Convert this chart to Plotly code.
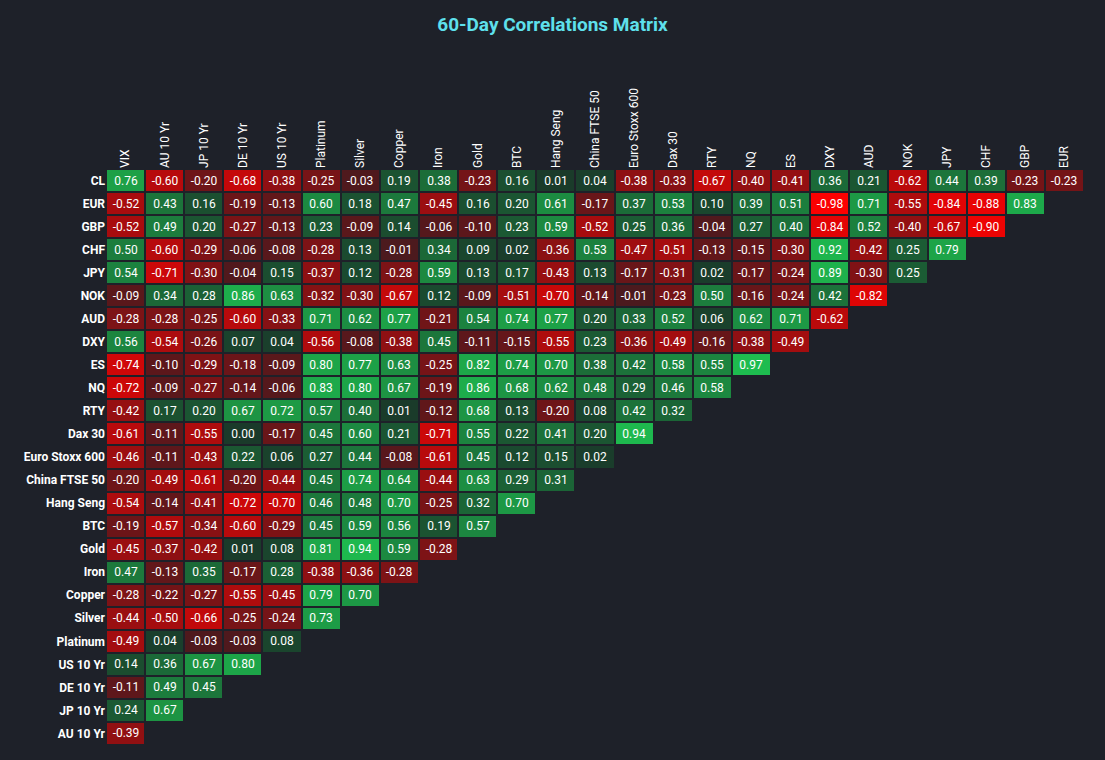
import plotly.graph_objects as go

cols = ["VIX","AU 10 Yr","JP 10 Yr","DE 10 Yr","US 10 Yr","Platinum","Silver","Copper","Iron","Gold","BTC",
        "Hang Seng","China FTSE 50","Euro Stoxx 600","Dax 30","RTY","NQ","ES","DXY","AUD","NOK","JPY","CHF","GBP","EUR"]
rows = ["CL","EUR","GBP","CHF","JPY","NOK","AUD","DXY","ES","NQ","RTY","Dax 30","Euro Stoxx 600","China FTSE 50",
        "Hang Seng","BTC","Gold","Iron","Copper","Silver","Platinum","US 10 Yr","DE 10 Yr","JP 10 Yr","AU 10 Yr"]

vals = [
 [0.76,-0.60,-0.20,-0.68,-0.38,-0.25,-0.03,0.19,0.38,-0.23,0.16,0.01,0.04,-0.38,-0.33,-0.67,-0.40,-0.41,0.36,0.21,-0.62,0.44,0.39,-0.23,-0.23],
 [-0.52,0.43,0.16,-0.19,-0.13,0.60,0.18,0.47,-0.45,0.16,0.20,0.61,-0.17,0.37,0.53,0.10,0.39,0.51,-0.98,0.71,-0.55,-0.84,-0.88,0.83],
 [-0.52,0.49,0.20,-0.27,-0.13,0.23,-0.09,0.14,-0.06,-0.10,0.23,0.59,-0.52,0.25,0.36,-0.04,0.27,0.40,-0.84,0.52,-0.40,-0.67,-0.90],
 [0.50,-0.60,-0.29,-0.06,-0.08,-0.28,0.13,-0.01,0.34,0.09,0.02,-0.36,0.53,-0.47,-0.51,-0.13,-0.15,-0.30,0.92,-0.42,0.25,0.79],
 [0.54,-0.71,-0.30,-0.04,0.15,-0.37,0.12,-0.28,0.59,0.13,0.17,-0.43,0.13,-0.17,-0.31,0.02,-0.17,-0.24,0.89,-0.30,0.25],
 [-0.09,0.34,0.28,0.86,0.63,-0.32,-0.30,-0.67,0.12,-0.09,-0.51,-0.70,-0.14,-0.01,-0.23,0.50,-0.16,-0.24,0.42,-0.82],
 [-0.28,-0.28,-0.25,-0.60,-0.33,0.71,0.62,0.77,-0.21,0.54,0.74,0.77,0.20,0.33,0.52,0.06,0.62,0.71,-0.62],
 [0.56,-0.54,-0.26,0.07,0.04,-0.56,-0.08,-0.38,0.45,-0.11,-0.15,-0.55,0.23,-0.36,-0.49,-0.16,-0.38,-0.49],
 [-0.74,-0.10,-0.29,-0.18,-0.09,0.80,0.77,0.63,-0.25,0.82,0.74,0.70,0.38,0.42,0.58,0.55,0.97],
 [-0.72,-0.09,-0.27,-0.14,-0.06,0.83,0.80,0.67,-0.19,0.86,0.68,0.62,0.48,0.29,0.46,0.58],
 [-0.42,0.17,0.20,0.67,0.72,0.57,0.40,0.01,-0.12,0.68,0.13,-0.20,0.08,0.42,0.32],
 [-0.61,-0.11,-0.55,0.00,-0.17,0.45,0.60,0.21,-0.71,0.55,0.22,0.41,0.20,0.94],
 [-0.46,-0.11,-0.43,0.22,0.06,0.27,0.44,-0.08,-0.61,0.45,0.12,0.15,0.02],
 [-0.20,-0.49,-0.61,-0.20,-0.44,0.45,0.74,0.64,-0.44,0.63,0.29,0.31],
 [-0.54,-0.14,-0.41,-0.72,-0.70,0.46,0.48,0.70,-0.25,0.32,0.70],
 [-0.19,-0.57,-0.34,-0.60,-0.29,0.45,0.59,0.56,0.19,0.57],
 [-0.45,-0.37,-0.42,0.01,0.08,0.81,0.94,0.59,-0.28],
 [0.47,-0.13,0.35,-0.17,0.28,-0.38,-0.36,-0.28],
 [-0.28,-0.22,-0.27,-0.55,-0.45,0.79,0.70],
 [-0.44,-0.50,-0.66,-0.25,-0.24,0.73],
 [-0.49,0.04,-0.03,-0.03,0.08],
 [0.14,0.36,0.67,0.80],
 [-0.11,0.49,0.45],
 [0.24,0.67],
 [-0.39],
]

z = [r + [None]*(len(cols)-len(r)) for r in vals]
text = [[("%.2f" % v) if v is not None else "" for v in r] for r in z]

bg = "#1e2129"
fig = go.Figure(go.Heatmap(
    z=z, x=cols, y=rows, text=text, texttemplate="%{text}",
    textfont=dict(color="white", size=12),
    zmin=-1, zmax=1, xgap=2, ygap=2, showscale=False, hoverinfo="skip",
    colorscale=[[0, "#ff0000"], [0.5, "#4a1a1e"], [0.5, "#1a3a2a"], [1, "#1ec050"]],
))
fig.update_layout(
    width=1105, height=760, paper_bgcolor=bg, plot_bgcolor=bg,
    font=dict(family="Roboto", color="white", size=12),
    title=dict(text="<b>60-Day Correlations Matrix</b>", x=0.5, y=0.968, xanchor="center", yanchor="middle",
               font=dict(size=19, color="#5ee0ec")),
    margin=dict(l=106, r=21, t=169, b=15),
    xaxis=dict(side="top", tickangle=-90, showgrid=False, zeroline=False,
               tickfont=dict(size=12, color="white")),
    yaxis=dict(autorange="reversed", showgrid=False, zeroline=False,
               tickfont=dict(size=12, color="white"), ticksuffix=" ",
               tickvals=rows, ticktext=["<b>%s</b>" % r for r in rows]),
)
fig.write_html("out.html", config={"displayModeBar": False},
               post_script="document.body.style.margin='0';document.body.style.background='%s';" % bg)
